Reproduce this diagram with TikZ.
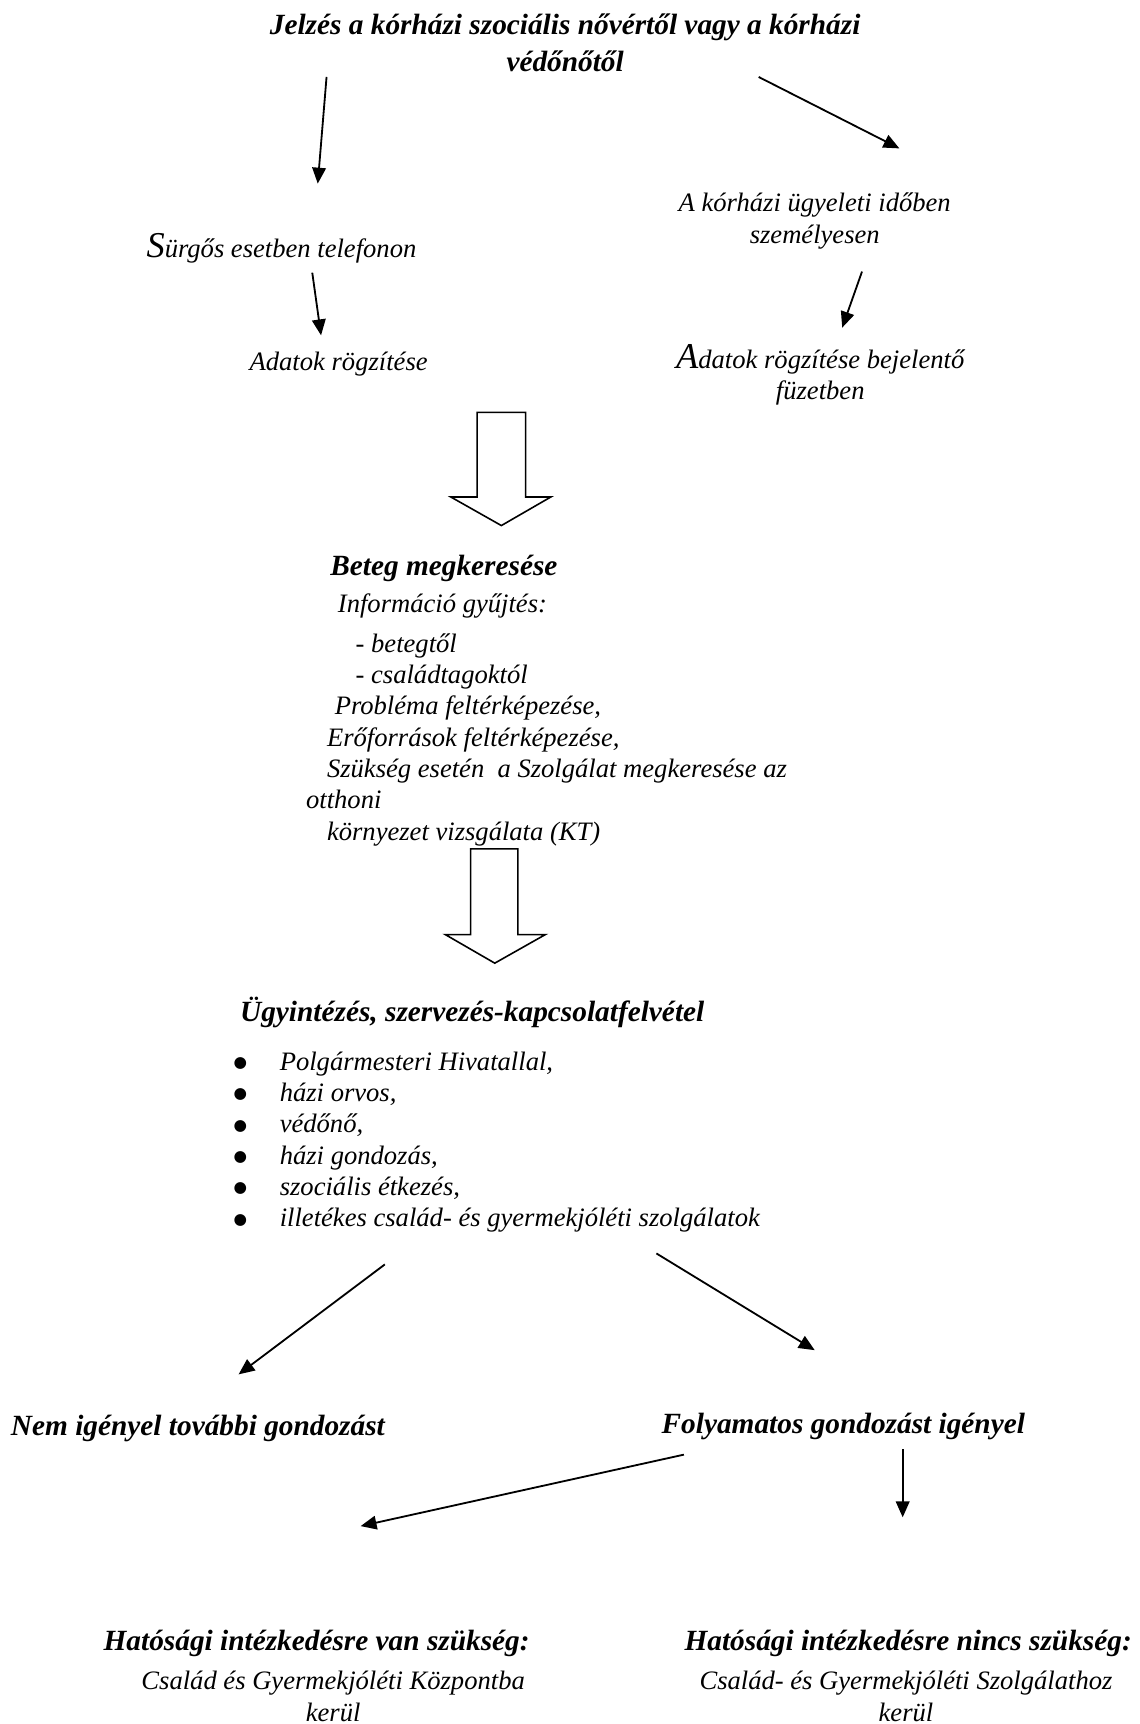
\documentclass[tikz,border=0pt]{standalone}
\usepackage{fontspec}
\setmainfont{Liberation Serif}
\newfontfamily\dejavu{DejaVu Sans}
\usetikzlibrary{arrows.meta,calc,positioning}

\newcommand{\blt}{\makebox[21.3pt][l]{\hspace*{1pt}\raisebox{1.2pt}{\dejavu\fontsize{6.8}{6.8}\selectfont ●}}}

\begin{document}
\begin{tikzpicture}[
  x=0.4837pt,
  y=-0.4837pt,
  txt/.style={
    inner sep=0pt,
    font=\itshape\fontsize{11.7}{13.8}\selectfont
    },
  hd/.style={
    inner sep=0pt,
    font=\bfseries\itshape\fontsize{12.9}{16.4}\selectfont
    },
  arr/.style={
    line width=0.8pt,
    -{Triangle[length=7pt,width=6pt]}
    },
  blockarr/.style={
    line width=0.7pt,
    fill=white,
    line join=miter
    }
]
\useasboundingbox (0,0) rectangle (1036,1568);

\node[hd, align=center] (title) at (514,39)
  {Jelzés a kórházi szociális nővértől vagy a kórházi\\védőnőtől};

\node[txt] (surgos) at (256,226)
  {{\fontsize{16}{16}\selectfont S}ürgős esetben telefonon};
\node[txt, align=center] (ugyelet) at (741,201)
  {A kórházi ügyeleti időben\\személyesen};
\node[txt] (adat1) at (308,331) {Adatok rögzítése};
\node[txt, align=center] (adat2) at (746,341)
  {{\fontsize{16}{16}\selectfont A}datok rögzítése bejelentő\\füzetben};

\draw[arr] ($(title.center)+(-217,31)$) -- ($(surgos.center)+(33,-59)$);
\draw[arr] ($(title.center)+(176,31)$) -- ($(ugyelet.center)+(77,-66)$);
\draw[arr] ($(surgos.center)+(28,22)$) -- ($(adat1.center)+(-16,-26)$);
\draw[arr] ($(ugyelet.center)+(43,46)$) -- ($(adat2.center)+(20,-43)$);

% first block arrow
\draw[blockarr] (434,375) -- (478,375) -- (478,452) -- (501,452)
  -- (456,478) -- (410,452) -- (434,452) -- cycle;

\node[hd, anchor=west] (beteg) at (300,517) {Beteg megkeresése};
\node[txt, anchor=north west, align=left] (info) at (278,540)
  {
  \hspace*{14pt}Információ gyűjtés:\\[3.4pt]
  \hspace*{21.8pt}- betegtől\\
  \hspace*{21.8pt}- családtagoktól\\
  \hspace*{12.6pt}Probléma feltérképezése,\\
  \hspace*{9.2pt}Erőforrások feltérképezése,\\
  \hspace*{9.2pt}Szükség esetén\ \ a Szolgálat megkeresése az\\
  otthoni\\
  \hspace*{9.2pt}környezet vizsgálata (KT)
  };

% second block arrow
\draw[blockarr] (428,772) -- (471,772) -- (471,850) -- (496,850)
  -- (450,876) -- (405,850) -- (428,850) -- cycle;

\node[hd, anchor=west] (ugyint) at (218,921)
  {Ügyintézés, szervezés-kapcsolatfelvétel};
\node[txt, anchor=north west, align=left] (lista) at (210,956)
  {
  \blt Polgármesteri Hivatallal,\\
  \blt házi orvos,\\
  \blt védőnő,\\
  \blt házi gondozás,\\
  \blt szociális étkezés,\\
  \blt illetékes család- és gyermekjóléti szolgálatok
  };

\node[hd] (nemig) at (180,1299) {Nem igényel további gondozást};
\node[hd] (folyam) at (767,1297) {Folyamatos gondozást igényel};

\draw[arr] ($(lista.north west)+(140,194)$) -- ($(nemig.center)+(37,-49)$);
\draw[arr] ($(lista.north west)+(387,184)$) -- ($(folyam.center)+(-26,-69)$);

\node[hd] (hatvan) at (288,1495) {Hatósági intézkedésre van szükség:};
\node[txt, align=center] (kozpont) at (303,1543)
  {Család és Gyermekjóléti Központba\\kerül};
\node[hd] (hatnincs) at (826,1495) {Hatósági intézkedésre nincs szükség:};
\node[txt, align=center] (szolgalat) at (824,1543)
  {Család- és Gyermekjóléti Szolgálathoz\\kerül};

\draw[arr] ($(folyam.center)+(-145,26)$) -- ($(hatvan.center)+(40,-107)$);
\draw[arr] ($(folyam.center)+(54,21)$) -- ($(hatnincs.center)+(-5,-115)$);

\end{tikzpicture}
\end{document}
